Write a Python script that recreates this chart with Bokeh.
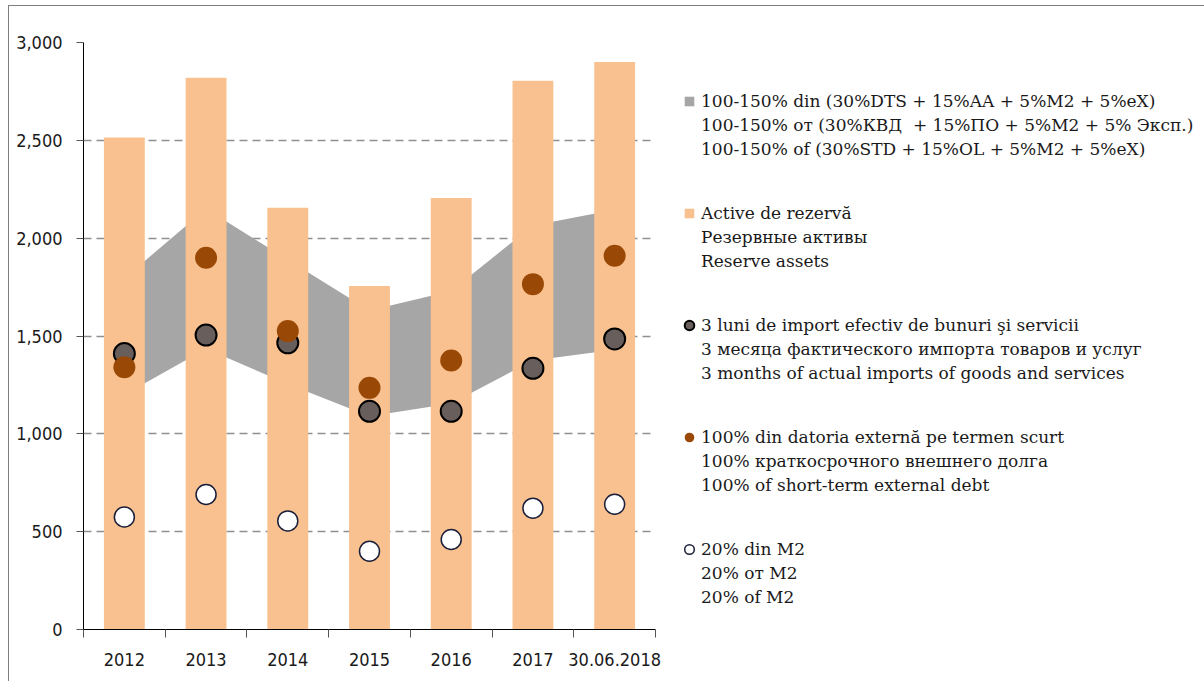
from bokeh.plotting import figure
from bokeh.models import FixedTicker, Legend, LegendItem, Range1d, NumeralTickFormatter, ColumnDataSource
from bokeh.embed import file_html
from bokeh.resources import INLINE

categories = ["2012", "2013", "2014", "2015", "2016", "2017", "30.06.2018"]
reserve_assets = [2515, 2820, 2155, 1755, 2205, 2805, 2900]
imports_3m = [1410, 1505, 1465, 1115, 1115, 1335, 1485]
short_term_debt = [1340, 1900, 1525, 1235, 1375, 1765, 1910]
m2_20 = [575, 690, 555, 400, 460, 620, 640]
band_low = [1200, 1435, 1255, 1090, 1155, 1375, 1430]
band_high = [1795, 2150, 1890, 1630, 1730, 2065, 2145]

label_lines = [
    ["100-150% din (30%DTS + 15%AA + 5%M2 + 5%eX)",
     "100-150% от (30%КВД  + 15%ПО + 5%М2 + 5% Эксп.)",
     "100-150% of (30%STD + 15%OL + 5%M2 + 5%eX)"],
    ["Active de rezervă", "Резервные активы", "Reserve assets"],
    ["3 luni de import efectiv de bunuri şi servicii",
     "3 месяца фактического импорта товаров и услуг",
     "3 months of actual imports of goods and services"],
    ["100% din datoria externă pe termen scurt",
     "100% краткосрочного внешнего долга",
     "100% of short-term external debt"],
    ["20% din M2", "20% от М2", "20% of M2"],
]

xs = [i + 0.5 for i in range(len(categories))]
src = ColumnDataSource(dict(x=xs, reserve=reserve_assets, imp=imports_3m, debt=short_term_debt,
                            m2=m2_20, lo=band_low, hi=band_high))

BAND_C = "#A6A6A6"
BAR_C = "#F9C18F"
DARK_C = "#685E5B"
BROWN_C = "#9A4805"

p = figure(frame_width=572, frame_height=587, output_backend="svg", toolbar_location=None,
           x_range=Range1d(0, len(categories)), y_range=Range1d(0, 3000),
           min_border_left=74, min_border_right=0, min_border_top=36, min_border_bottom=52)
p.margin = (5, 0, 0, 8)
p.styles = {"border-left": "1px solid #7f7f7f", "border-top": "1px solid #7f7f7f"}
p.outline_line_color = None
p.background_fill_color = "white"

band = p.varea(x="x", y1="lo", y2="hi", source=src, fill_color=BAND_C)
bars = p.vbar(x="x", top="reserve", source=src, width=0.5, fill_color=BAR_C, line_color=None)
white = p.scatter(x="x", y="m2", source=src, size=20, fill_color="white", line_color="#1a1f3a", line_width=1.5)
dark = p.scatter(x="x", y="imp", source=src, size=21, fill_color=DARK_C, line_color="black", line_width=2)
brown = p.scatter(x="x", y="debt", source=src, size=22, fill_color=BROWN_C, line_color=None)

# zero-size square keys: invisible in the plot, give small square swatches in the legend
band_key = p.scatter(x="x", y="lo", source=src, size=0, marker="square", fill_color=BAND_C, line_color=None)
bars_key = p.scatter(x="x", y="reserve", source=src, size=0, marker="square", fill_color=BAR_C, line_color=None)
blank = p.scatter(x="x", y="m2", source=src, size=0, fill_alpha=0, line_alpha=0)

tick_font = "DejaVu Sans Condensed, DejaVu Sans, sans-serif"

# x axis
p.xaxis.ticker = FixedTicker(ticks=xs, minor_ticks=list(range(len(categories) + 1)))
p.xaxis.major_label_overrides = {x: c for x, c in zip(xs, categories)}
p.xaxis.major_tick_line_color = None
p.xaxis.major_tick_out = 0
p.xaxis.major_tick_in = 0
p.xaxis.minor_tick_out = 8
p.xaxis.minor_tick_in = 0
p.xaxis.minor_tick_line_color = "#555555"
p.xaxis.axis_line_color = "black"
p.xaxis.major_label_text_font = tick_font
p.xaxis.major_label_text_font_size = "18px"
p.xaxis.major_label_text_color = "#1a1a1a"
p.xaxis.major_label_standoff = 15

# y axis
p.yaxis.ticker = FixedTicker(ticks=[0, 500, 1000, 1500, 2000, 2500, 3000])
p.yaxis.formatter = NumeralTickFormatter(format="0,0")
p.yaxis.major_tick_out = 7
p.yaxis.major_tick_in = 0
p.yaxis.minor_tick_line_color = None
p.yaxis.major_tick_line_color = "#555555"
p.yaxis.axis_line_color = "black"
p.yaxis.major_label_text_font = tick_font
p.yaxis.major_label_text_font_size = "18px"
p.yaxis.major_label_text_color = "#1a1a1a"
p.yaxis.major_label_standoff = 14

p.xgrid.grid_line_color = None
p.ygrid.ticker = FixedTicker(ticks=[500, 1000, 1500, 2000, 2500, 3000])
p.ygrid.grid_line_color = "#8f8f8f"
p.ygrid.grid_line_dash = "8 5"
p.ygrid.grid_line_width = 1.5

items = []
keys = [band_key, bars_key, dark, brown, white]
for gi, (lines, rend) in enumerate(zip(label_lines, keys)):
    items.append(LegendItem(label=lines[0], renderers=[rend]))
    for ln in lines[1:]:
        items.append(LegendItem(label=ln, renderers=[blank]))
    if gi < len(label_lines) - 1:
        items.append(LegendItem(label="\u00a0\n\u00a0", renderers=[blank]))

legend = Legend(items=items, location=(22, 20))
legend.border_line_color = None
legend.background_fill_alpha = 0
legend.padding = 0
legend.margin = 0
legend.spacing = 0
legend.label_height = 24
legend.label_standoff = 0
legend.glyph_width = 24
legend.glyph_height = 24
legend.label_text_font = "DejaVu Serif"
legend.label_text_font_size = "17px"
legend.label_text_color = "#1a1a1a"
p.add_layout(legend, "right")

open("out.html", "w").write(file_html(p, INLINE))
